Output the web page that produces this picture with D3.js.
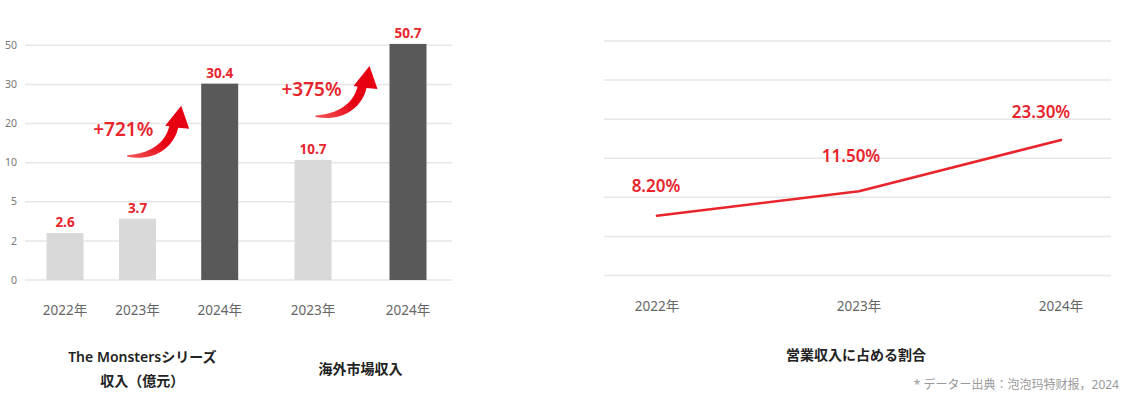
<!DOCTYPE html>
<html>
<head>
<meta charset="utf-8">
<script src="https://cdn.jsdelivr.net/npm/d3@7/dist/d3.min.js"></script>
<style>
  body { margin: 0; background: #fff; }
  svg { display: block; font-family: "Noto Sans", "Noto Sans CJK JP", sans-serif; }
</style>
</head>
<body>
<div id="chart"></div>
<script>
// 左: 棒グラフのデータ
const barKeys = ['m2022', 'm2023', 'm2024', 'o2023', 'o2024'];
const barLabels = ['2022年', '2023年', '2024年', '2023年', '2024年'];
const barValues = [2.6, 3.7, 30.4, 10.7, 50.7];
const barHighlight = [false, false, true, false, true];
const yTicks = [0, 2, 5, 10, 20, 30, 50];
const groupTitles = [['The Monstersシリーズ', '収入（億元）'], ['海外市場収入']];
const groupMembers = [[0, 1, 2], [3, 4]];
const growthLabels = ['+721%', '+375%'];
const growthTargets = [2, 4];

// 右: 折れ線のデータ
const lineYears = ['2022年', '2023年', '2024年'];
const lineValues = [8.2, 11.5, 23.3];
const lineTitle = '営業収入に占める割合';
const sourceNote = '* データー出典：泡泡玛特财报，2024';

const W = 1135, H = 397;
const RED = '#e8242c';

const svg = d3.select('#chart').append('svg')
    .attr('width', W)
    .attr('height', H);

const defs = svg.append('defs');
const grad = defs.append('linearGradient')
    .attr('id', 'arrowGrad')
    .attr('x1', '0%').attr('y1', '100%')
    .attr('x2', '100%').attr('y2', '0%');
grad.append('stop').attr('offset', '0%').attr('stop-color', '#f25a5a');
grad.append('stop').attr('offset', '45%').attr('stop-color', '#e60012');
grad.append('stop').attr('offset', '100%').attr('stop-color', '#e60012');

// ---- 左チャート ----
const gridIdx = d3.scaleLinear().domain([0, yTicks.length - 1]).range([280, 45.3]);
const yLeft = d3.scaleLinear()
    .domain(yTicks)
    .range(yTicks.map((d, i) => gridIdx(i)));

// 棒の中心位置（元の図の不均等な配置）
const x = d3.scaleOrdinal()
    .domain(barKeys)
    .range([65, 137.5, 219.7, 313, 408]);
const bw = 37;

const left = svg.append('g');

left.append('g')
    .selectAll('line')
    .data(yTicks)
    .enter().append('line')
    .attr('x1', 25)
    .attr('x2', 452)
    .attr('y1', d => yLeft(d))
    .attr('y2', d => yLeft(d))
    .attr('stroke', '#e6e6e6')
    .attr('stroke-width', 1.5);

left.append('g')
    .selectAll('text')
    .data(yTicks)
    .enter().append('text')
    .attr('x', 17)
    .attr('y', d => yLeft(d))
    .attr('dy', '0.35em')
    .attr('text-anchor', 'end')
    .attr('font-size', 10.5)
    .attr('fill', '#777')
    .text(d => d);

left.append('g')
    .selectAll('rect')
    .data(barKeys)
    .enter().append('rect')
    .attr('x', d => x(d) - bw / 2)
    .attr('width', bw)
    .attr('y', (d, i) => yLeft(barValues[i]))
    .attr('height', (d, i) => yLeft(0) - yLeft(barValues[i]))
    .attr('fill', (d, i) => barHighlight[i] ? '#595959' : '#d9d9d9');

left.append('g')
    .selectAll('text')
    .data(barKeys)
    .enter().append('text')
    .attr('x', d => x(d))
    .attr('y', (d, i) => yLeft(barValues[i]) - 6)
    .attr('text-anchor', 'middle')
    .attr('font-size', 13.5)
    .attr('font-weight', 700)
    .attr('fill', RED)
    .text((d, i) => barValues[i]);

left.append('g')
    .selectAll('text')
    .data(barKeys)
    .enter().append('text')
    .attr('x', d => x(d))
    .attr('y', 315)
    .attr('text-anchor', 'middle')
    .attr('font-size', 13.5)
    .attr('fill', '#666')
    .text((d, i) => barLabels[i]);

// 伸び率の矢印
const arrowPath = 'M -54,51 C -30,56 -8,44 -3,22 L 8,23 L 0,0 L -16,20 L -12,20.5 C -16,38 -32,48 -54,49.5 Z';
growthTargets.forEach((t, i) => {
    const tipX = x(barKeys[t]) - bw / 2 - 20;
    const tipY = yLeft(barValues[t]) + 22;
    const g = left.append('g').attr('transform', `translate(${tipX},${tipY})`);
    g.append('path')
        .attr('d', arrowPath)
        .attr('fill', 'url(#arrowGrad)');
    g.append('text')
        .attr('x', -58)
        .attr('y', 30)
        .attr('text-anchor', 'middle')
        .attr('font-size', 19)
        .attr('font-weight', 600)
        .attr('fill', RED)
        .text(growthLabels[i]);
});

// グループ名
groupTitles.forEach((lines, gi) => {
    const members = groupMembers[gi].map(i => x(barKeys[i]));
    const cx = (d3.min(members) + d3.max(members)) / 2;
    const y0 = lines.length > 1 ? 362 : 374;
    left.append('g')
        .selectAll('text')
        .data(lines)
        .enter().append('text')
        .attr('x', cx)
        .attr('y', (d, i) => y0 + i * 24)
        .attr('text-anchor', 'middle')
        .attr('font-size', 14)
        .attr('font-weight', 600)
        .attr('fill', '#222')
        .text(d => d);
});

// ---- 右チャート ----
const right = svg.append('g');
const gridRight = d3.scaleLinear().domain([0, 6]).range([275.5, 41]);
const xr = d3.scalePoint().domain(lineYears).range([657, 1061]);
const yr = d3.scaleLog().domain([3.6, 91]).range([275.5, 41]);

right.append('g')
    .selectAll('line')
    .data(d3.range(7))
    .enter().append('line')
    .attr('x1', 604)
    .attr('x2', 1111)
    .attr('y1', d => gridRight(d))
    .attr('y2', d => gridRight(d))
    .attr('stroke', '#e6e6e6')
    .attr('stroke-width', 1.5);

const line = d3.line()
    .x((d, i) => xr(lineYears[i]))
    .y(d => yr(d));

right.append('path')
    .datum(lineValues)
    .attr('d', line)
    .attr('fill', 'none')
    .attr('stroke', RED)
    .attr('stroke-width', 2.6)
    .attr('stroke-linejoin', 'round')
    .attr('stroke-linecap', 'round');

const labelDx = [-1, -8, -20];
const labelDy = [-24, -29, -22];
right.append('g')
    .selectAll('text')
    .data(lineValues)
    .enter().append('text')
    .attr('x', (d, i) => xr(lineYears[i]) + labelDx[i])
    .attr('y', (d, i) => yr(d) + labelDy[i])
    .attr('text-anchor', 'middle')
    .attr('font-size', 17)
    .attr('font-weight', 600)
    .attr('fill', RED)
    .text(d => d.toFixed(2) + '%');

right.append('g')
    .selectAll('text')
    .data(lineYears)
    .enter().append('text')
    .attr('x', d => xr(d))
    .attr('y', 311)
    .attr('text-anchor', 'middle')
    .attr('font-size', 13.5)
    .attr('fill', '#666')
    .text(d => d);

right.append('text')
    .attr('x', 856)
    .attr('y', 360)
    .attr('text-anchor', 'middle')
    .attr('font-size', 14)
    .attr('font-weight', 600)
    .attr('fill', '#222')
    .text(lineTitle);

right.append('text')
    .attr('x', 1119)
    .attr('y', 389)
    .attr('text-anchor', 'end')
    .attr('font-size', 12)
    .attr('fill', '#999')
    .text(sourceNote);
</script>
</body>
</html>
